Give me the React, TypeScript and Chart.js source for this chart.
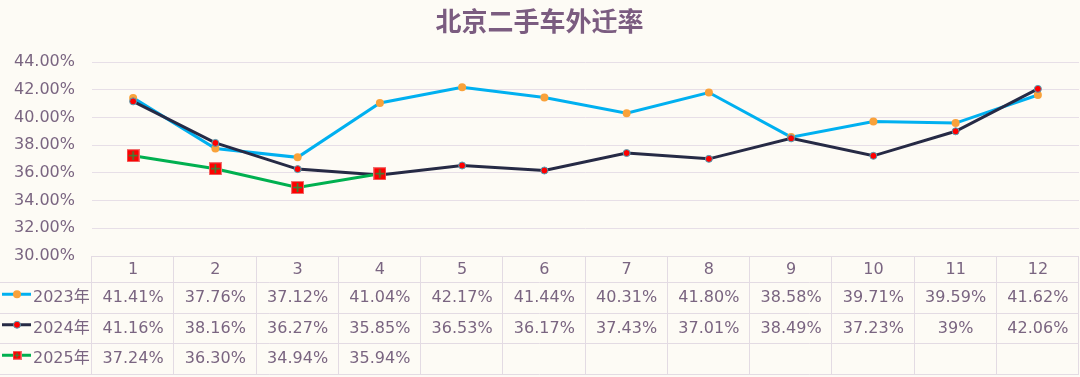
import React, { useEffect, useRef } from 'react';
import { Chart, registerables } from 'chart.js';

Chart.register(...registerables);

// ---- data ----
const months = ['1', '2', '3', '4', '5', '6', '7', '8', '9', '10', '11', '12'];
const seriesNames = ['2023年', '2024年', '2025年'];
const rate2023 = [41.41, 37.76, 37.12, 41.04, 42.17, 41.44, 40.31, 41.8, 38.58, 39.71, 39.59, 41.62];
const rate2024 = [41.16, 38.16, 36.27, 35.85, 36.53, 36.17, 37.43, 37.01, 38.49, 37.23, 39, 42.06];
const rate2025 = [37.24, 36.3, 34.94, 35.94];
const yMin = 30;
const yMax = 44;
const yStep = 2;
const title = '北京二手车外迁率';

// ---- styles ----
const BG = '#FDFBF5';
const TEXT = '#7A6581';
const GRID = '#E7DFE7';
const TABLE_LINE = '#E3DBE3';
const C2023 = '#00B0F0';
const C2024 = '#262A45';
const C2025 = '#00B050';
const FONT = '"DejaVu Sans", "Noto Sans CJK SC", sans-serif';

function fmt(v: number | null | undefined): string {
  if (v === null || v === undefined) return '';
  return Number.isInteger(v) ? `${v}%` : `${v.toFixed(2)}%`;
}

function squareMarker(size: number): HTMLCanvasElement {
  const c = document.createElement('canvas');
  c.width = size;
  c.height = size;
  const g = c.getContext('2d')!;
  g.fillStyle = '#F07070';
  g.fillRect(0, 0, size, size);
  g.fillStyle = '#FF0000';
  g.fillRect(1, 1, size - 2, size - 2);
  g.strokeStyle = '#2F8A3A';
  g.lineWidth = size > 10 ? 1.6 : 1.2;
  const m = size / 2;
  g.beginPath();
  g.moveTo(m, 2);
  g.lineTo(m, size - 2);
  g.moveTo(2, m);
  g.lineTo(size - 2, m);
  g.stroke();
  return c;
}

export default function App() {
  const ref = useRef<HTMLCanvasElement>(null);

  useEffect(() => {
    document.body.style.margin = '0';
    document.body.style.background = BG;
    const bigSquare = squareMarker(13);
    const smallSquare = squareMarker(9);
    const seriesValues = [rate2023, rate2024, rate2025];

    const bgPlugin = {
      id: 'bg',
      beforeDraw(chart: any) {
        const { ctx, width, height } = chart;
        ctx.save();
        ctx.fillStyle = BG;
        ctx.fillRect(0, 0, width, height);
        ctx.restore();
      },
    };

    const tablePlugin = {
      id: 'dataTable',
      afterDraw(chart: any) {
        const { ctx, chartArea } = chart;
        const xs = chart.scales.x;
        const left = chartArea.left;
        const right = chartArea.right;
        const top = chartArea.bottom;
        const n = months.length;
        const colW = (right - left) / n;
        const lines = [top, top + 26, top + 56.5, top + 87, top + 117.5];
        ctx.save();
        ctx.strokeStyle = TABLE_LINE;
        ctx.lineWidth = 1;
        lines.forEach((y, i) => {
          const yy = Math.round(y) + 0.5;
          ctx.beginPath();
          ctx.moveTo(i === 0 ? left : 0, yy);
          ctx.lineTo(right, yy);
          ctx.stroke();
        });
        for (let i = 0; i <= n; i++) {
          const x = Math.round(left + i * colW) - 0.5;
          ctx.beginPath();
          ctx.moveTo(x, Math.round(lines[0]));
          ctx.lineTo(x, Math.round(lines[4]) + 1);
          ctx.stroke();
        }
        ctx.fillStyle = TEXT;
        ctx.font = `16px ${FONT}`;
        ctx.textBaseline = 'middle';
        ctx.textAlign = 'center';
        const headerY = (lines[0] + lines[1]) / 2 + 1;
        months.forEach((m, i) => {
          ctx.fillText(m, xs.getPixelForValue(i), headerY);
        });
        const colors = [C2023, C2024, C2025];
        seriesNames.forEach((name, r) => {
          const cy = (lines[r + 1] + lines[r + 2]) / 2 + 1;
          ctx.textAlign = 'center';
          ctx.fillStyle = TEXT;
          seriesValues[r].forEach((v, i) => {
            ctx.fillText(fmt(v), xs.getPixelForValue(i), cy);
          });
          const iy = cy - 4;
          ctx.strokeStyle = colors[r];
          ctx.lineWidth = 3;
          ctx.beginPath();
          ctx.moveTo(2, iy);
          ctx.lineTo(31, iy);
          ctx.stroke();
          if (r === 0) {
            ctx.fillStyle = '#F9A23A';
            ctx.beginPath();
            ctx.arc(17, iy, 4, 0, Math.PI * 2);
            ctx.fill();
          } else if (r === 1) {
            ctx.fillStyle = '#FF0000';
            ctx.strokeStyle = '#4FA3B8';
            ctx.lineWidth = 1;
            ctx.beginPath();
            ctx.arc(17, iy, 3.5, 0, Math.PI * 2);
            ctx.fill();
            ctx.stroke();
          } else {
            ctx.drawImage(smallSquare, 17 - 4.5, iy - 4.5);
          }
          ctx.fillStyle = TEXT;
          ctx.textAlign = 'left';
          ctx.fillText(name, 33, cy);
        });
        ctx.restore();
      },
    };

    const chart = new Chart(ref.current!, {
      type: 'line',
      data: {
        labels: months,
        datasets: [
          {
            label: seriesNames[0],
            data: rate2023,
            borderColor: C2023,
            borderWidth: 3,
            pointRadius: 4,
            pointBorderWidth: 0,
            pointBackgroundColor: '#F9A23A',
            pointBorderColor: '#F9A23A',
            tension: 0,
            order: 3,
          },
          {
            label: seriesNames[1],
            data: rate2024,
            borderColor: C2024,
            borderWidth: 3,
            pointRadius: 3.5,
            pointBorderWidth: 1,
            pointBackgroundColor: '#FF0000',
            pointBorderColor: '#4FA3B8',
            tension: 0,
            order: 2,
          },
          {
            label: seriesNames[2],
            data: rate2025,
            borderColor: C2025,
            borderWidth: 3,
            pointStyle: bigSquare as any,
            pointRadius: 6.5,
            tension: 0,
            order: 1,
          },
        ],
      },
      options: {
        responsive: false,
        animation: false,
        layout: { autoPadding: false, padding: { top: 0, left: 0, right: 1, bottom: 121 } },
        plugins: {
          legend: { display: false },
          tooltip: { enabled: false },
          title: {
            display: true,
            text: title,
            color: '#7B5C80',
            font: { family: '"Noto Sans CJK SC", sans-serif', size: 26, weight: 'bold' },
            padding: { top: 6, bottom: 24.8 },
          },
        },
        scales: {
          x: {
            type: 'category',
            display: false,
            offset: true,
          },
          y: {
            min: yMin,
            max: yMax,
            afterFit(scale: any) {
              scale.width = 92;
            },
            border: { display: false },
            grid: { color: GRID, lineWidth: 1, drawTicks: false },
            ticks: {
              stepSize: yStep,
              padding: 17,
              color: TEXT,
              font: { family: FONT, size: 16 },
              callback: (v: any) => `${Number(v).toFixed(2)}%`,
            },
          },
        },
      },
      plugins: [bgPlugin, tablePlugin],
    } as any);
    return () => chart.destroy();
  }, []);

  return (
    <div style={{ width: 1080, height: 377 }}>
      <canvas ref={ref} width={1080} height={377} style={{ display: 'block' }} />
    </div>
  );
}
